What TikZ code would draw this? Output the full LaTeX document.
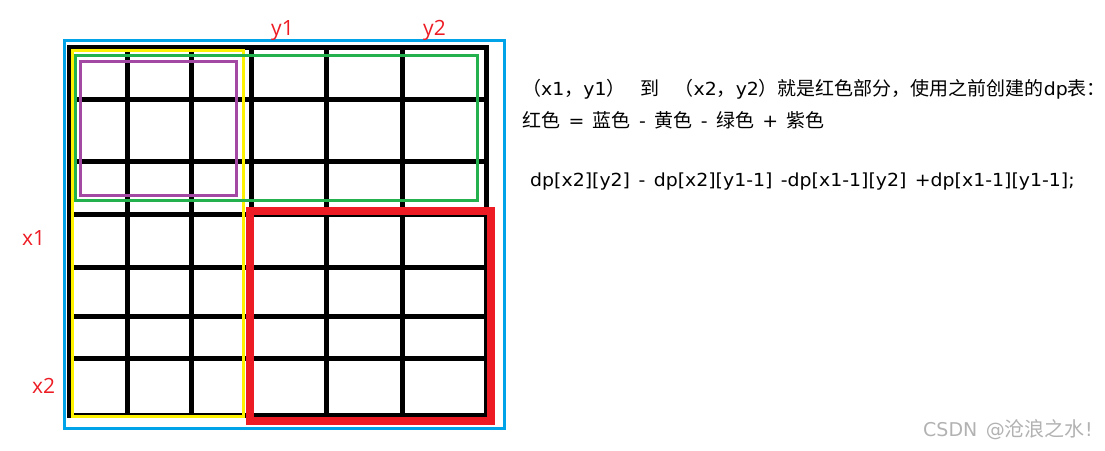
\documentclass[tikz,border=0pt]{standalone}
\usepackage{fontspec}
\setmainfont[WordSpace=1.4]{DejaVu Sans}
\newfontfamily\cjkfont[Scale=1.055]{Noto Sans CJK SC}
\newfontfamily\labfont{Open Sans}
\newcommand\zh[1]{{\cjkfont #1}}
\usepackage{xcolor}
\usepackage{tikz}

\definecolor{paintblue}{HTML}{00A2E8}
\definecolor{paintyellow}{HTML}{FFF200}
\definecolor{paintgreen}{HTML}{22B14C}
\definecolor{paintpurple}{HTML}{A349A4}
\definecolor{paintred}{HTML}{ED1C24}

\begin{document}
\begin{tikzpicture}[
  x=1pt, y=-1pt,
  gridline/.style={line width=5pt, black, line cap=rect},
  frame/.style={line width=3pt},
  idx/.style={anchor=base west, inner sep=0pt, text=paintred,
              font=\labfont\fontsize{21}{25}\selectfont},
  note/.style={anchor=base west, inner sep=0pt,
               font=\fontsize{18}{22}\selectfont\addfontfeature{FakeStretch=1.05}}
]
  \useasboundingbox (0,0) rectangle (1105,450);
  % table cells
  \foreach \gx in {69,127,191,251,326,402,486}
    \draw[gridline] (\gx,47) -- (\gx,415);
  \foreach \gy in {47,99,161,214,267,316,358,415}
    \draw[gridline] (69,\gy) -- (486,\gy);
  % regions
  \draw[frame, paintyellow] (72,50.5) rectangle (243.5,416);
  \draw[frame, paintgreen] (75,55.5) rectangle (477.5,200.5);
  \draw[frame, paintpurple] (80.5,61.5) rectangle (236,195.5);
  \draw[line width=8pt, paintred] (250,211) rectangle (491,420.5);
  \draw[frame, paintblue] (64.5,40.5) rectangle (504.5,428);
  % indices
  \node[idx] (ya) at (271,35) {y1};
  \node[idx] (yb) at (423,35) {y2};
  \node[idx] (xa) at (22,245) {x1};
  \node[idx] (xb) at (32,393) {x2};
  % explanation
  \node[note] (n1) at (522,95) {\zh{（}x1\zh{，}y1\zh{）}\hspace{15pt}\zh{到}\hspace{15pt}\zh{（}x2\zh{，}y2\zh{）就是红色部分，使用之前创建的}dp\zh{表：}};
  \node[note] (n2) at (522,127) {\zh{红色} = \zh{蓝色} - \zh{黄色} - \zh{绿色} + \zh{紫色}};
  \node[note] (n3) at (530,186) {dp[x2][y2] - dp[x2][y1-1] -dp[x1-1][y2] +dp[x1-1][y1-1];};
  \node[note, text=black!30, font=\fontsize{19}{23}\selectfont] (mark) at (923,436) {CSDN @\zh{沧浪之水}!};
\end{tikzpicture}
\end{document}
